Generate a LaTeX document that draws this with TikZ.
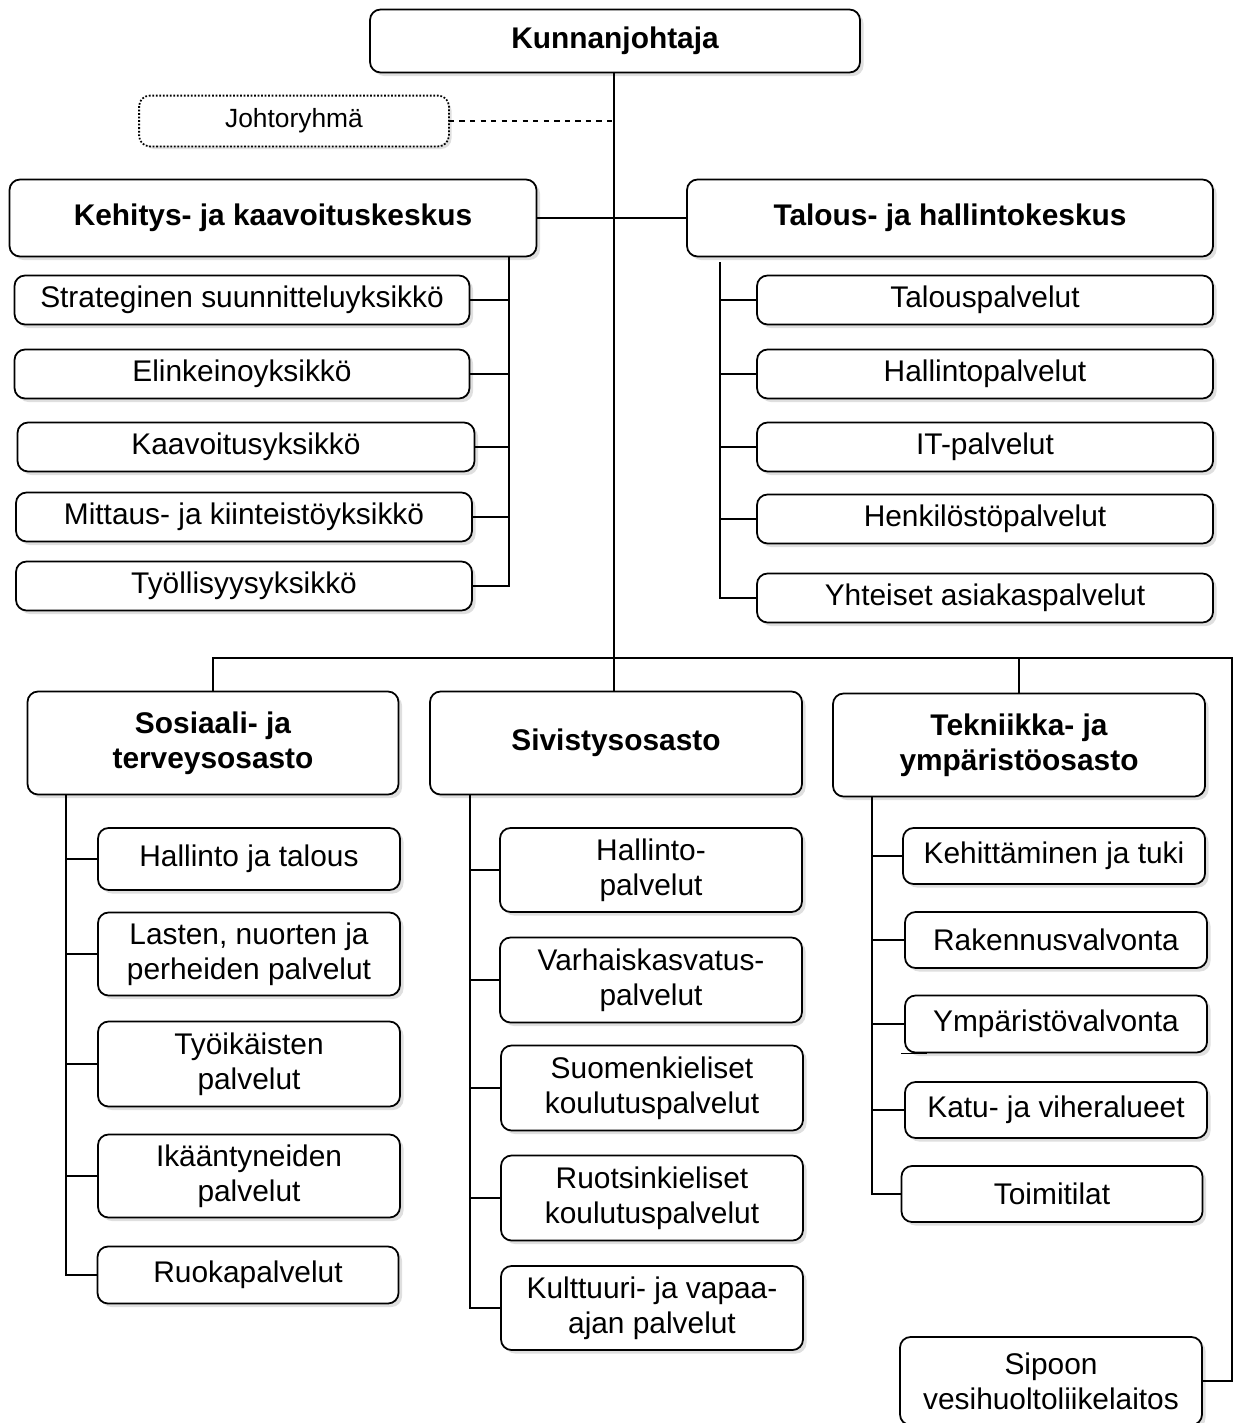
\documentclass[tikz,border=0pt]{standalone}
\usepackage{fontspec}
\setmainfont{Liberation Sans}
\usetikzlibrary{shadows}
\tikzset{
  box/.style={draw,line width=1pt,rounded corners=6pt,fill=white,align=center,
    inner sep=0pt,font=\fontsize{17}{20}\selectfont,
    drop shadow={opacity=0.25,shadow xshift=2pt,shadow yshift=-2pt}},
  headbox/.style={box,font=\bfseries\fontsize{17}{20}\selectfont},
  size/.style 2 args={minimum width=#1*0.02cm,minimum height=#2*0.02cm},
  link/.style={line width=1pt},
}
\begin{document}
\begin{tikzpicture}[x=0.02cm,y=-0.02cm]
\useasboundingbox (0,0) rectangle (1235,1423);
% top level
\node[headbox,size={490}{63}] (kunta) at (615,41) {Kunnanjohtaja};
\node[box,draw=none,size={308}{49},font=\fontsize{15}{18}\selectfont] (johto) at (294,121) {Johtoryhmä};
\draw[line width=1pt,densely dotted,rounded corners=6pt] (johto.north west) rectangle (johto.south east);
\node[headbox,size={527}{77}] (kehitys) at (273,218) {Kehitys- ja kaavoituskeskus};
\node[headbox,size={526}{77}] (talous) at (950,218) {Talous- ja hallintokeskus};
% Kehitys- ja kaavoituskeskus units
\node[box,size={455}{49}] (k1) at (242,300) {Strateginen suunnitteluyksikkö};
\node[box,size={455}{49}] (k2) at (242,374) {Elinkeinoyksikkö};
\node[box,size={457}{49}] (k3) at (246,447) {Kaavoitusyksikkö};
\node[box,size={456}{49}] (k4) at (244,517) {Mittaus- ja kiinteistöyksikkö};
\node[box,size={456}{49}] (k5) at (244,586) {Työllisyysyksikkö};
% Talous- ja hallintokeskus units
\node[box,size={456}{49}] (t1) at (985,300) {Talouspalvelut};
\node[box,size={456}{49}] (t2) at (985,374) {Hallintopalvelut};
\node[box,size={456}{49}] (t3) at (985,447) {IT-palvelut};
\node[box,size={456}{49}] (t4) at (985,519) {Henkilöstöpalvelut};
\node[box,size={456}{49}] (t5) at (985,598) {Yhteiset asiakaspalvelut};
% departments
\node[headbox,size={371}{103}] (sosiaali) at (213,743) {Sosiaali- ja\\terveysosasto};
\node[headbox,size={372}{103}] (sivistys) at (616,743) {Sivistysosasto};
\node[headbox,size={372}{103}] (tekniikka) at (1019,745) {Tekniikka- ja\\ympäristöosasto};
% Sosiaali- ja terveysosasto units
\node[box,size={302}{62}] (s1) at (249,859) {Hallinto ja talous};
\node[box,size={302}{83}] (s2) at (249,954) {Lasten, nuorten ja\\perheiden palvelut};
\node[box,size={302}{85}] (s3) at (249,1064) {Työikäisten\\palvelut};
\node[box,size={302}{83}] (s4) at (249,1176) {Ikääntyneiden\\palvelut};
\node[box,size={301}{57}] (s5) at (248,1275) {Ruokapalvelut};
% Sivistysosasto units
\node[box,size={302}{84}] (v1) at (651,870) {Hallinto-\\palvelut};
\node[box,size={302}{85}] (v2) at (651,980) {Varhaiskasvatus-\\palvelut};
\node[box,size={302}{85}] (v3) at (652,1088) {Suomenkieliset\\koulutuspalvelut};
\node[box,size={302}{85}] (v4) at (652,1198) {Ruotsinkieliset\\koulutuspalvelut};
\node[box,size={302}{84}] (v5) at (652,1308) {Kulttuuri- ja vapaa-\\ajan palvelut};
% Tekniikka- ja ympäristöosasto units
\node[box,size={302}{56}] (e1) at (1054,856) {Kehittäminen ja tuki};
\node[box,size={302}{56}] (e2) at (1056,940) {Rakennusvalvonta};
\node[box,size={302}{57}] (e3) at (1056,1024) {Ympäristövalvonta};
\node[box,size={302}{56}] (e4) at (1056,1110) {Katu- ja viheralueet};
\node[box,size={301}{56}] (e5) at (1052,1194) {Toimitilat};
\node[box,size={302}{88}] (vesi) at (1051,1381) {Sipoon\\vesihuoltoliikelaitos};
% connectors
\coordinate (trunk) at (614,121);
\coordinate (rail) at (614,658);
\coordinate (far) at (1232,658);
\draw[link] (kunta.south -| trunk) -- (sivistys.north -| trunk);
\draw[link,dashed] (johto.east) -- (trunk);
\draw[link] (kehitys.east) -- (talous.west);
\draw[link] (sosiaali.north) |- (far) |- (vesi.east);
\draw[link] (tekniikka.north) -- (tekniikka.north |- rail);
% branch of Kehitys- ja kaavoituskeskus
\coordinate (kb) at (509,0);
\draw[link] (kehitys.south -| kb) -- (k5.east -| kb) -- (k5.east);
\foreach \u in {k1,k2,k3,k4}
  \draw[link] (\u.east) -- (\u.east -| kb);
% branch of Talous- ja hallintokeskus
\coordinate (tb) at (720,262);
\draw[link] (tb) -- (t5.west -| tb) -- (t5.west);
\foreach \u in {t1,t2,t3,t4}
  \draw[link] (\u.west) -- (\u.west -| tb);
% branch of Sosiaali- ja terveysosasto
\coordinate (sb) at (66,0);
\draw[link] (sosiaali.south -| sb) -- (s5.west -| sb) -- (s5.west);
\foreach \u in {s1,s2,s3,s4}
  \draw[link] (\u.west) -- (\u.west -| sb);
% branch of Sivistysosasto
\coordinate (vb) at (470,0);
\draw[link] (sivistys.south -| vb) -- (v5.west -| vb) -- (v5.west);
\foreach \u in {v1,v2,v3,v4}
  \draw[link] (\u.west) -- (\u.west -| vb);
% branch of Tekniikka- ja ympäristöosasto
\coordinate (eb) at (872,0);
\draw[link] (tekniikka.south -| eb) -- (e5.west -| eb) -- (e5.west);
\foreach \u in {e1,e2,e3,e4}
  \draw[link] (\u.west) -- (\u.west -| eb);
\draw[link] (e3.south west) ++(-3,0) coordinate (stray) -- ++(26,0);
\end{tikzpicture}
\end{document}
